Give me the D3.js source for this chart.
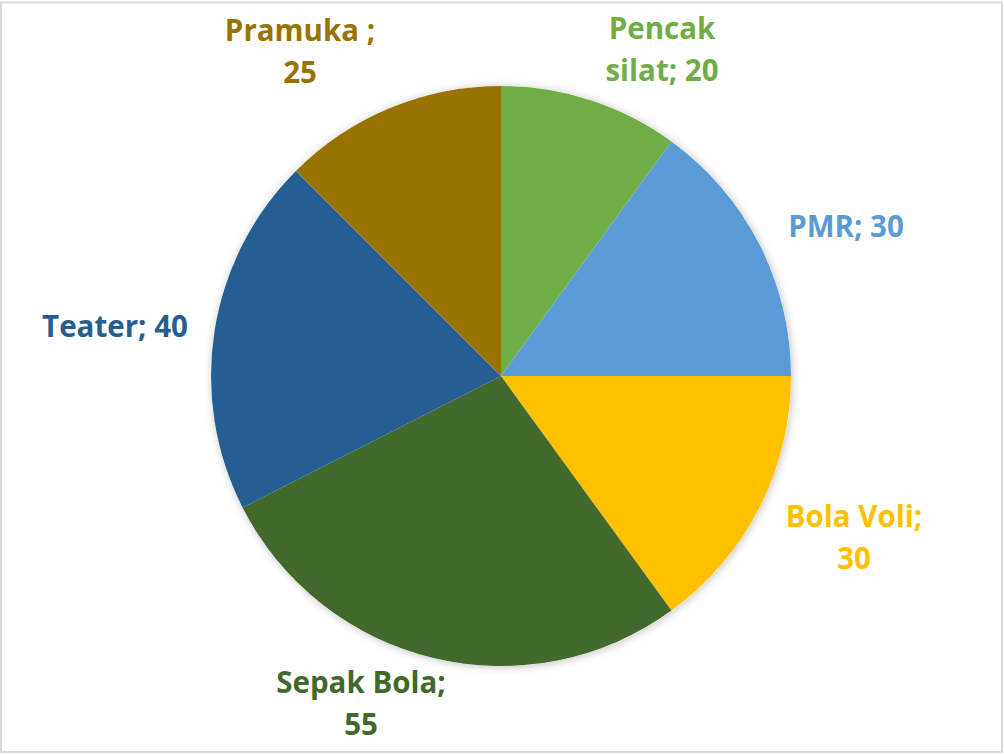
<!DOCTYPE html>
<html>
<head>
<meta charset="utf-8">
<script src="https://cdn.jsdelivr.net/npm/d3@7"></script>
<style>
  body { margin: 0; background: #fff; }
</style>
</head>
<body>
<div id="chart"></div>
<script>
// data
const categories = ["Pencak silat", "PMR", "Bola Voli", "Sepak Bola", "Teater", "Pramuka "];
const values = [20, 30, 30, 55, 40, 25];
const colors = ["#70ad47", "#5b9bd5", "#ffc000", "#43682b", "#255e91", "#997300"];

// label layout (anchor = centre x, first baseline y; words kept on first line)
const labelAnchors = [[662, 39], [846, 237], [854, 527], [361, 693], [115, 337], [300, 41]];
const firstLineWords = [1, 3, 2, 2, 2, 2];

const width = 1004, height = 754;
const cx = 501, cy = 376, radius = 290;
const lineHeight = 42;

const svg = d3.select("#chart").append("svg")
    .attr("width", width)
    .attr("height", height);

// chart frame
svg.append("rect")
    .attr("x", 1)
    .attr("y", 2.5)
    .attr("width", 1001)
    .attr("height", 749.5)
    .attr("fill", "#fff")
    .attr("stroke", "#d9d9d9")
    .attr("stroke-width", 2);

const defs = svg.append("defs");
const shadow = defs.append("filter")
    .attr("id", "pieShadow")
    .attr("x", "-10%").attr("y", "-10%")
    .attr("width", "120%").attr("height", "120%");
shadow.append("feDropShadow")
    .attr("dx", 1)
    .attr("dy", 1)
    .attr("stdDeviation", 4)
    .attr("flood-color", "#000")
    .attr("flood-opacity", 0.25);

const data = categories.map((c, i) => ({name: c, value: values[i], color: colors[i]}));

const pie = d3.pie().sort(null).value(d => d.value);
const arc = d3.arc().innerRadius(0).outerRadius(radius);

const g = svg.append("g")
    .attr("transform", `translate(${cx},${cy})`);

g.append("circle")
    .attr("r", radius)
    .attr("fill", "#fff")
    .attr("filter", "url(#pieShadow)");

g.selectAll("path")
    .data(pie(data))
    .enter()
    .append("path")
    .attr("d", arc)
    .attr("fill", d => d.data.color);

// data labels
data.forEach((d, i) => {
    const words = `${d.name}; ${d.value}`.split(/\s+/);
    const lines = [words.slice(0, firstLineWords[i]).join(" ")];
    if (words.length > firstLineWords[i]) lines.push(words.slice(firstLineWords[i]).join(" "));

    const text = svg.append("text")
        .attr("text-anchor", "middle")
        .attr("font-family", "'Open Sans', sans-serif")
        .attr("font-weight", "bold")
        .attr("font-size", "29.5px")
        .attr("fill", d.color);

    lines.forEach((line, j) => {
        text.append("tspan")
            .attr("x", labelAnchors[i][0])
            .attr("y", labelAnchors[i][1] + j * lineHeight)
            .text(line);
    });
});
</script>
</body>
</html>
